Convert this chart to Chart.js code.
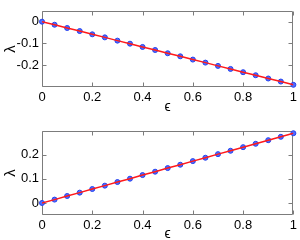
<!DOCTYPE html>
<html>
<head>
<meta charset="utf-8">
<script src="https://cdn.jsdelivr.net/npm/chart.js@4"></script>
<style>
  html, body { margin: 0; padding: 0; background: #fff; overflow: hidden; }
  canvas { position: absolute; left: 0; }
</style>
</head>
<body>
<canvas id="topChart" width="300" height="120" style="top:0"></canvas>
<canvas id="bottomChart" width="300" height="120" style="top:120px"></canvas>
<script>
const eps = [0, 0.05, 0.1, 0.15, 0.2, 0.25, 0.3, 0.35, 0.4, 0.45, 0.5,
  0.55, 0.6, 0.65, 0.7, 0.75, 0.8, 0.85, 0.9, 0.95, 1];
const lambdaTop = [0, -0.014, -0.029, -0.043, -0.058, -0.072, -0.087, -0.101, -0.116, -0.130, -0.145,
  -0.159, -0.174, -0.188, -0.203, -0.217, -0.232, -0.246, -0.261, -0.275, -0.290];
const lambdaBottom = [0, 0.014, 0.029, 0.043, 0.058, 0.072, 0.087, 0.101, 0.116, 0.130, 0.145,
  0.159, 0.174, 0.188, 0.203, 0.217, 0.232, 0.246, 0.261, 0.275, 0.290];
const xTicks = [0, 0.2, 0.4, 0.6, 0.8, 1];
const topYTicks = [-0.2, -0.1, 0];
const bottomYTicks = [0, 0.1, 0.2];

const family = "'Liberation Sans', Arial, sans-serif";
const fmt = v => String(+Number(v).toFixed(2));

// box around the plot with MATLAB-style inward ticks on all four sides
const boxTicks = {
  id: 'boxTicks',
  beforeDatasetsDraw(chart) {
    const { ctx, chartArea: a, scales: { x, y } } = chart;
    const l = Math.round(a.left) + 0.5, r = Math.round(a.right) - 0.5;
    const t = Math.round(a.top) + 0.5, b = Math.round(a.bottom) - 0.5;
    ctx.save();
    ctx.strokeStyle = '#7c7c7c';
    ctx.lineWidth = 1;
    ctx.beginPath();
    ctx.rect(l, t, r - l, b - t);
    x.ticks.forEach(tk => {
      const px = Math.round(x.getPixelForValue(tk.value)) + 0.5;
      ctx.moveTo(px, b); ctx.lineTo(px, b - 4);
      ctx.moveTo(px, t); ctx.lineTo(px, t + 4);
    });
    y.ticks.forEach(tk => {
      const py = Math.round(y.getPixelForValue(tk.value)) + 0.5;
      ctx.moveTo(l, py); ctx.lineTo(l + 4, py);
      ctx.moveTo(r, py); ctx.lineTo(r - 4, py);
    });
    ctx.stroke();
    ctx.restore();
  }
};

function makeChart(id, values, yMin, yMax, yTicks, padTop, xHeight, xTitlePad) {
  const pts = eps.map((e, i) => ({ x: e, y: values[i] }));
  return new Chart(document.getElementById(id), {
    type: 'line',
    data: {
      datasets: [
        { data: pts, borderColor: '#ff1a1a', borderWidth: 1.5, pointRadius: 0, fill: false, tension: 0 },
        { data: pts, showLine: false, pointRadius: 2.5, pointBackgroundColor: '#4f6dff',
          pointBorderColor: '#2642ee', pointBorderWidth: 1, clip: false }
      ]
    },
    options: {
      responsive: false,
      animation: false,
      layout: { padding: { left: 0, right: 6, top: padTop, bottom: 0 } },
      plugins: { legend: { display: false }, tooltip: { enabled: false } },
      scales: {
        x: {
          type: 'linear', min: 0, max: 1,
          afterBuildTicks: s => { s.ticks = xTicks.map(v => ({ value: v })); },
          afterFit: s => { s.height = xHeight; },
          grid: { display: false, drawTicks: false },
          border: { display: false },
          ticks: { color: '#000', padding: 3, font: { family, size: 13 }, callback: fmt },
          title: { display: true, text: 'ϵ', color: '#000',
            font: { family, size: 14, lineHeight: 1 }, padding: { top: 0, bottom: xTitlePad } }
        },
        y: {
          type: 'linear', min: yMin, max: yMax,
          afterBuildTicks: s => { s.ticks = yTicks.map(v => ({ value: v })); },
          afterFit: s => { s.width = 42; },
          grid: { display: false, drawTicks: false },
          border: { display: false },
          ticks: { color: '#000', padding: 3, font: { family, size: 13 }, callback: fmt },
          title: { display: true, text: 'λ', color: '#000',
            font: { family, size: 15, lineHeight: 1 }, padding: { top: 3, bottom: 0 } }
        }
      }
    },
    plugins: [boxTicks]
  });
}

makeChart('topChart', lambdaTop, -0.3, 0.05, topYTicks, 1, 33, 6);
makeChart('bottomChart', lambdaBottom, -0.05, 0.3, bottomYTicks, 10, 25, -1);
</script>
</body>
</html>
